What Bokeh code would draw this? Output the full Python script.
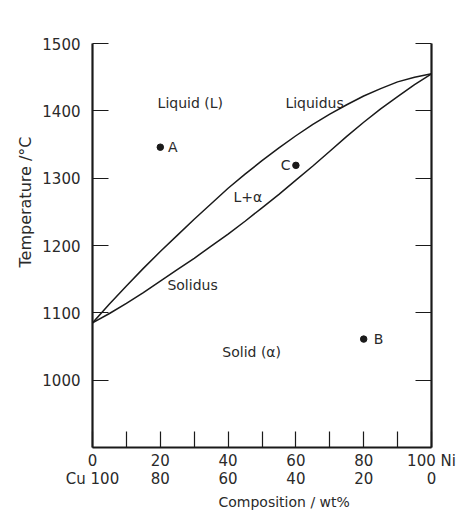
from bokeh.plotting import figure
from bokeh.models import Range1d, FixedTicker, LinearAxis, Title, ColumnDataSource
from bokeh.core.properties import value
from bokeh.embed import file_html
from bokeh.resources import INLINE

# ---- data ----
ni_wt = [0, 5, 10, 15, 20, 25, 30, 35, 40, 45, 50, 55, 60, 65, 70, 75, 80, 85, 90, 95, 100]
liquidus_T = [1085, 1113, 1140, 1166, 1191, 1215, 1239, 1262, 1285, 1306, 1326,
              1345, 1363, 1380, 1395, 1409, 1422, 1433, 1443, 1450, 1455]
solidus_T = [1085, 1099, 1114, 1130, 1147, 1164, 1181, 1199, 1217, 1236, 1256,
             1276, 1297, 1318, 1340, 1362, 1383, 1403, 1421, 1439, 1455]

point_names = ["A", "B", "C"]
point_ni = [20, 80, 60]
point_T = [1346, 1061, 1319]

x_ticks = [0, 10, 20, 30, 40, 50, 60, 70, 80, 90, 100]
x_tick_labels = {0: "0\nCu 100", 20: "20\n80", 40: "40\n60", 60: "60\n40",
                 80: "80\n20", 100: "100 Ni\n0"}
y_ticks = [1000, 1100, 1200, 1300, 1400, 1500]

region_texts = ["Liquid (L)", "Liquidus", "L+\u03b1", "Solidus", "Solid  (\u03b1)"]
x_title = "Composition / wt%"
y_title = "Temperature /\u00b0C"

# ---- layout / style (not data) ----
region_x = [19.2, 56.9, 41.6, 22.1, 38.3]
region_y = [1412, 1412, 1272, 1141, 1042]
point_label_dx = [2.3, 3.0, -1.6]
point_label_align = ["left", "left", "right"]

FONT = "DejaVu Sans"
TXT = "#2a2a2a"
LINE = "#1a1a1a"

p = figure(width=466, height=514, x_range=Range1d(0, 100), y_range=Range1d(900, 1500),
           output_backend="svg", toolbar_location=None,
           min_border_left=92, min_border_right=35, min_border_top=43, min_border_bottom=67,
           outline_line_color=None, background_fill_color="white", border_fill_color="white")
p.grid.visible = False

# curves
p.line(ni_wt, liquidus_T, line_color=LINE, line_width=1.5)
p.line(ni_wt, solidus_T, line_color=LINE, line_width=1.5)

# points
src = ColumnDataSource(dict(x=point_ni, y=point_T, name=point_names,
                            lx=[x + d for x, d in zip(point_ni, point_label_dx)],
                            align=point_label_align))
p.scatter("x", "y", source=src, size=6.5, color=LINE)
p.text("lx", "y", text="name", source=src, text_align="align", text_baseline="middle",
       text_font=value(FONT), text_font_size="14px", text_color=TXT)

# region labels
rsrc = ColumnDataSource(dict(x=region_x, y=region_y, t=region_texts))
p.text("x", "y", text="t", source=rsrc, text_align="left", text_baseline="middle",
       text_font=value(FONT), text_font_size="14px", text_color=TXT)

# axes styling
def style_axis(ax):
    ax.axis_line_color = LINE
    ax.axis_line_width = 2.2
    ax.major_tick_line_color = LINE
    ax.major_tick_line_width = 1.2
    ax.major_tick_in = 16
    ax.major_tick_out = 0
    ax.minor_tick_line_color = None
    ax.major_label_text_font = FONT
    ax.major_label_text_color = TXT

xa = p.xaxis[0]
style_axis(xa)
xa.ticker = FixedTicker(ticks=x_ticks)
xa.major_label_overrides = {t: x_tick_labels.get(t, "") for t in x_ticks}
xa.major_label_text_font_size = "15px"
xa.major_label_text_line_height = 1.0
xa.major_label_standoff = 4

ya = p.yaxis[0]
style_axis(ya)
ya.ticker = FixedTicker(ticks=y_ticks)
ya.major_label_text_font_size = "15px"
ya.major_label_standoff = 12

ra = LinearAxis(ticker=FixedTicker(ticks=y_ticks))
style_axis(ra)
ra.major_label_text_font_size = "0px"
ra.major_label_text_color = None
p.add_layout(ra, "right")

# axis titles
p.add_layout(Title(text=x_title, align="left", offset=126, text_font=FONT,
                   text_font_size="14px", text_font_style="normal", text_color=TXT,
                   standoff=2), "below")
p.add_layout(Title(text=y_title, align="left", offset=180, text_font=FONT,
                   text_font_size="16px", text_font_style="normal", text_color=TXT,
                   standoff=10), "left")

open("out.html", "w").write(file_html(p, INLINE))
